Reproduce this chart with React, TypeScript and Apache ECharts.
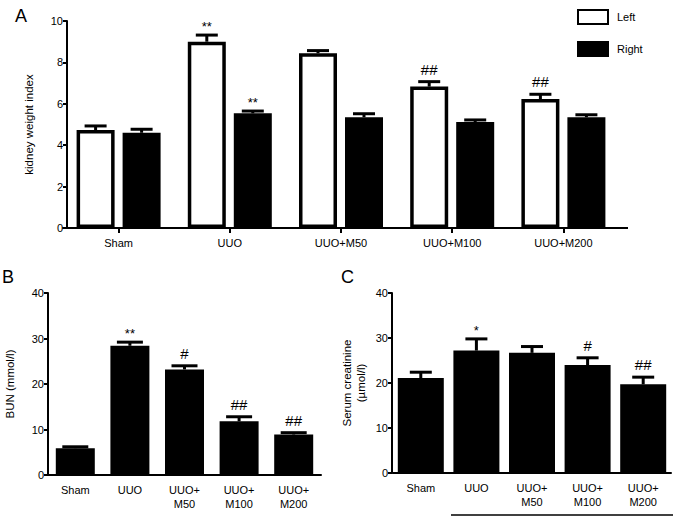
import React, { useEffect, useRef } from "react";
import * as echarts from "echarts";

const categoriesA = ["Sham", "UUO", "UUO+M50", "UUO+M100", "UUO+M200"];
const leftValues = [4.73, 9.0, 8.44, 6.83, 6.23];
const leftErrors = [0.2, 0.32, 0.13, 0.24, 0.23];
const leftMarks = ["", "**", "", "##", "##"];
const rightValues = [4.6, 5.54, 5.35, 5.12, 5.35];
const rightErrors = [0.17, 0.11, 0.17, 0.1, 0.12];
const rightMarks = ["", "**", "", "", ""];

const categoriesBC = ["Sham", "UUO", "UUO+\nM50", "UUO+\nM100", "UUO+\nM200"];
const bunValues = [5.9, 28.4, 23.2, 11.8, 8.9];
const bunErrors = [0.3, 0.8, 0.8, 1.0, 0.4];
const bunMarks = ["", "**", "#", "##", "##"];
const creatValues = [21.1, 27.2, 26.7, 24.0, 19.7];
const creatErrors = [1.3, 2.6, 1.4, 1.6, 1.6];
const creatMarks = ["", "*", "", "#", "##"];

const FONT = "'Liberation Sans', Arial, Helvetica, sans-serif";

function errorSeries(
  axisIndex: number,
  values: number[],
  errors: number[],
  marks: string[],
  offset: number,
  capW: number
) {
  return {
    type: "custom",
    xAxisIndex: axisIndex,
    yAxisIndex: axisIndex,
    z: 5,
    silent: true,
    data: values.map((v, i) => [i, v, errors[i]]),
    renderItem: (params: any, api: any) => {
      const i = api.value(0);
      const v = api.value(1);
      const e = api.value(2);
      const base = api.coord([i, v]);
      const top = api.coord([i, v + e]);
      const cx = base[0] + offset;
      const mark = marks[params.dataIndex];
      const children: any[] = [
        {
          type: "line",
          shape: { x1: cx, y1: base[1], x2: cx, y2: top[1] },
          style: { stroke: "#000", lineWidth: 3 },
        },
        {
          type: "line",
          shape: { x1: cx - capW / 2, y1: top[1], x2: cx + capW / 2, y2: top[1] },
          style: { stroke: "#000", lineWidth: 3 },
        },
      ];
      if (mark) {
        const star = mark.indexOf("*") >= 0;
        children.push({
          type: "text",
          x: cx,
          y: top[1] - (star ? 2 : 5),
          style: {
            text: mark,
            textAlign: "center",
            textVerticalAlign: "bottom",
            fontSize: star ? 13 : 15,
            fontFamily: FONT,
            fill: "#000",
          },
        });
      }
      return { type: "group", children };
    },
  };
}

function yAxisCfg(idx: number, max: number, interval: number, name: string, nameGap: number, offset: number) {
  return {
    type: "value",
    gridIndex: idx,
    min: 0,
    max,
    interval,
    offset,
    name,
    nameLocation: "middle",
    nameGap,
    nameTextStyle: { fontSize: 11.5, color: "#000", fontFamily: FONT, lineHeight: 14 },
    axisLine: { show: true, lineStyle: { color: "#000", width: 2 } },
    axisTick: { show: true, length: 4, lineStyle: { color: "#000", width: 2 } },
    axisLabel: { fontSize: 11, color: "#000", fontFamily: FONT, margin: 4 },
    splitLine: { show: false },
  };
}

function xAxisCfg(idx: number, cats: string[], ticks: boolean) {
  return {
    type: "category",
    gridIndex: idx,
    data: cats,
    axisLine: { show: true, lineStyle: { color: "#000", width: 2 } },
    axisTick: { show: ticks, alignWithLabel: true, length: 5, lineStyle: { color: "#000", width: 2 } },
    axisLabel: { fontSize: 11, color: "#000", fontFamily: FONT, margin: 8, interval: 0, lineHeight: 14 },
  };
}

export default function App() {
  const ref = useRef<HTMLDivElement>(null);
  useEffect(() => {
    if (!ref.current) return;
    const chart = echarts.init(ref.current, undefined, { renderer: "svg" });
    const barA = 38;
    const gapA = 8;
    const halfA = (barA + gapA) / 2;
    const option: any = {
      animation: false,
      backgroundColor: "#fff",
      textStyle: { fontFamily: FONT },
      grid: [
        { left: 63, top: 21, width: 556, height: 207 },
        { left: 48, top: 293, width: 273, height: 182 },
        { left: 393, top: 293, width: 278, height: 180 },
      ],
      xAxis: [xAxisCfg(0, categoriesA, true), xAxisCfg(1, categoriesBC, false), xAxisCfg(2, categoriesBC, false)],
      yAxis: [
        yAxisCfg(0, 10, 2, "kidney weight index", 31, -4),
        yAxisCfg(1, 40, 10, "BUN (mmol/l)", 31, 0),
        yAxisCfg(2, 40, 10, "Serum creatinine\n(µmol/l)", 24, 1),
      ],
      legend: {
        data: ["Left", "Right"],
        orient: "vertical",
        left: 572,
        top: 4,
        icon: "rect",
        itemWidth: 30,
        itemHeight: 14,
        itemGap: 16,
        textStyle: { fontSize: 11, color: "#000", fontFamily: FONT, padding: [0, 0, 0, 4] },
      },
      series: [
        {
          name: "Left",
          type: "bar",
          xAxisIndex: 0,
          yAxisIndex: 0,
          data: leftValues,
          barWidth: barA,
          barGap: `${(gapA / barA) * 100}%`,
          itemStyle: { color: "#fff", borderColor: "#000", borderWidth: 3.5 },
        },
        {
          name: "Right",
          type: "bar",
          xAxisIndex: 0,
          yAxisIndex: 0,
          data: rightValues,
          barWidth: barA,
          itemStyle: { color: "#000", borderColor: "#000", borderWidth: 3.5 },
        },
        errorSeries(0, leftValues, leftErrors, leftMarks, -halfA, 22),
        errorSeries(0, rightValues, rightErrors, rightMarks, halfA, 22),
        {
          name: "BUN",
          type: "bar",
          xAxisIndex: 1,
          yAxisIndex: 1,
          data: bunValues,
          barWidth: 39,
          itemStyle: { color: "#000" },
        },
        errorSeries(1, bunValues, bunErrors, bunMarks, 0, 26),
        {
          name: "Creatinine",
          type: "bar",
          xAxisIndex: 2,
          yAxisIndex: 2,
          data: creatValues,
          barWidth: 46,
          itemStyle: { color: "#000" },
        },
        errorSeries(2, creatValues, creatErrors, creatMarks, 0, 22),
      ],
      graphic: [
        { type: "text", left: 15, top: 7, style: { text: "A", fontSize: 18, fill: "#000", fontFamily: FONT } },
        { type: "text", left: 2, top: 268, style: { text: "B", fontSize: 18, fill: "#000", fontFamily: FONT } },
        { type: "text", left: 341, top: 268, style: { text: "C", fontSize: 18, fill: "#000", fontFamily: FONT } },
        { type: "line", shape: { x1: 618, y1: 228, x2: 628, y2: 228 }, style: { stroke: "#000", lineWidth: 2 } },
        { type: "line", shape: { x1: 451, y1: 515, x2: 673, y2: 515 }, style: { stroke: "#000", lineWidth: 1.5 } },
      ],
    };
    chart.setOption(option);
    return () => chart.dispose();
  }, []);
  return <div ref={ref} style={{ position: "fixed", left: 0, top: 0, width: 677, height: 520 }} />;
}
